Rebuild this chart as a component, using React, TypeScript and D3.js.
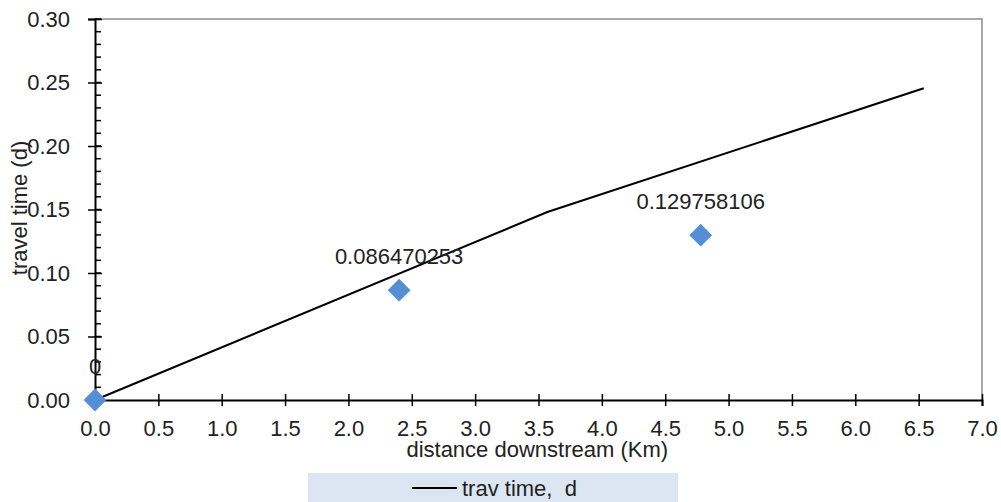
import { useEffect, useRef } from "react";
import * as d3 from "d3";

// line series: travel time vs distance
const lineX = [0, 3.57, 6.54];
const lineY = [0, 0.148, 0.2455];

// observed points with their labels
const ptX = [0, 2.4, 4.78];
const ptY = [0, 0.086470253, 0.129758106];
const ptLabels = ["0", "0.086470253", "0.129758106"];

const xTicks = [0, 0.5, 1, 1.5, 2, 2.5, 3, 3.5, 4, 4.5, 5, 5.5, 6, 6.5, 7];
const yTicks = [0, 0.05, 0.1, 0.15, 0.2, 0.25, 0.3];
const yMinor = d3.range(0, 31).map((d) => d / 100);

const FONT = "'Liberation Sans', Arial, sans-serif";
const FS = 22;

export default function App() {
  const ref = useRef<SVGSVGElement>(null);

  useEffect(() => {
    if (!ref.current) return;
    const svg = d3.select(ref.current);
    svg.selectAll("*").remove();

    const W = 1001;
    const H = 502;
    const m = { top: 19, right: 19, bottom: 102, left: 95 };
    const w = W - m.left - m.right;
    const h = H - m.top - m.bottom;

    const x = d3.scaleLinear().domain([0, 7]).range([0, w]);
    const y = d3.scaleLinear().domain([0, 0.3]).range([h, 0]);

    const g = svg.append("g").attr("transform", `translate(${m.left},${m.top})`);

    // plot frame (top & right)
    g.append("path")
      .attr("d", `M0,0H${w}V${h}`)
      .attr("fill", "none")
      .attr("stroke", "#8c8c8c")
      .attr("stroke-width", 1.5);

    // y minor ticks (inside)
    g.selectAll(".ymin")
      .data(yMinor)
      .join("line")
      .attr("x1", 0)
      .attr("x2", 6)
      .attr("y1", (d) => y(d))
      .attr("y2", (d) => y(d))
      .attr("stroke", "#000")
      .attr("stroke-width", 1.5);

    // y axis
    g.append("g")
      .call(
        d3
          .axisLeft(y)
          .tickValues(yTicks)
          .tickFormat((d) => (d as number).toFixed(2))
          .tickSize(7)
          .tickPadding(18)
      )
      .call((a) => {
        a.select(".domain").attr("stroke", "#000").attr("stroke-width", 2);
        a.selectAll(".tick line").attr("x1", 7).attr("x2", -7).attr("stroke-width", 1.5);
        a.selectAll("text")
          .attr("font-size", FS)
          .attr("font-family", FONT)
          .attr("fill", "#222");
      });

    // x axis
    g.append("g")
      .attr("transform", `translate(0,${h})`)
      .call(
        d3
          .axisBottom(x)
          .tickValues(xTicks)
          .tickFormat((d) => (d as number).toFixed(1))
          .tickSize(6)
          .tickPadding(14)
      )
      .call((a) => {
        a.select(".domain").attr("stroke", "#000").attr("stroke-width", 2);
        a.selectAll(".tick line").attr("y1", -6).attr("y2", 6).attr("stroke-width", 1.5);
        a.selectAll("text")
          .attr("font-size", FS)
          .attr("font-family", FONT)
          .attr("fill", "#222");
      });

    // axis titles
    g.append("text")
      .attr("x", x(3.49))
      .attr("y", h + 57)
      .attr("text-anchor", "middle")
      .attr("font-size", FS)
      .attr("font-family", FONT)
      .attr("fill", "#222")
      .text("distance downstream (Km)");
    g.append("text")
      .attr("transform", "rotate(-90)")
      .attr("x", -(208 - m.top))
      .attr("y", -m.left + 27)
      .attr("text-anchor", "middle")
      .attr("font-size", FS)
      .attr("font-family", FONT)
      .attr("fill", "#222")
      .text("travel time (d)");

    // line series
    const line = d3
      .line<number>()
      .x((d) => x(d))
      .y((_, i) => y(lineY[i]));
    g.append("path")
      .datum(lineX)
      .attr("fill", "none")
      .attr("stroke", "#000")
      .attr("stroke-width", 2)
      .attr("d", line);

    // diamond markers
    const diamond = d3.symbol().type(d3.symbolDiamond2).size(330);
    g.selectAll(".pt")
      .data(ptX)
      .join("path")
      .attr("d", diamond)
      .attr("transform", (d, i) => `translate(${x(d)},${y(ptY[i])})`)
      .attr("fill", "#558ed5");

    // data labels
    g.selectAll(".lbl")
      .data(ptX)
      .join("text")
      .attr("x", (d) => x(d))
      .attr("y", (_, i) => y(ptY[i]) - 26)
      .attr("text-anchor", "middle")
      .attr("font-size", FS)
      .attr("font-family", FONT)
      .attr("fill", "#222")
      .text((_, i) => ptLabels[i]);

    // legend
    const leg = svg.append("g");
    leg.append("rect")
      .attr("x", 308)
      .attr("y", 473)
      .attr("width", 370)
      .attr("height", 32)
      .attr("fill", "#dce6f2");
    leg.append("line")
      .attr("x1", 412)
      .attr("x2", 457)
      .attr("y1", 488)
      .attr("y2", 488)
      .attr("stroke", "#000")
      .attr("stroke-width", 2);
    leg.append("text")
      .attr("x", 462)
      .attr("y", 496)
      .attr("font-size", FS)
      .attr("font-family", FONT)
      .attr("fill", "#222")
      .attr("xml:space", "preserve")
      .text("trav time,  d");
  }, []);

  return (
    <svg
      ref={ref}
      width={1001}
      height={502}
      style={{ position: "absolute", left: 0, top: 0, background: "#fff" }}
    />
  );
}
